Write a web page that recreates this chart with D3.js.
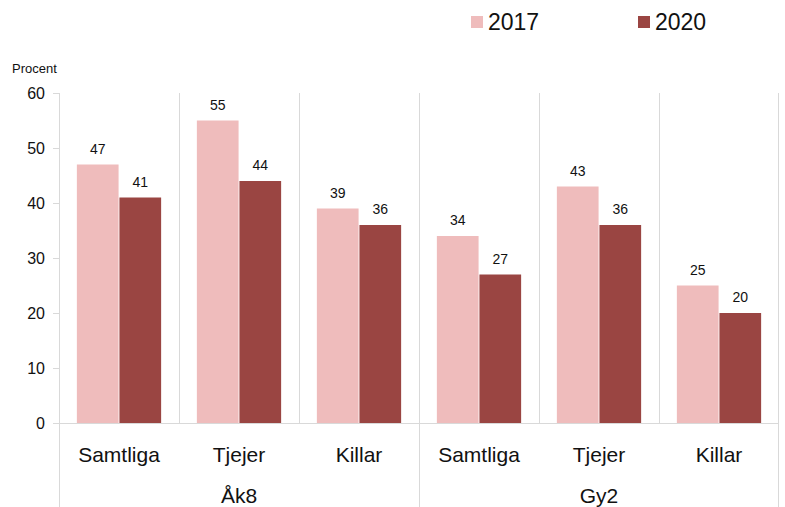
<!DOCTYPE html>
<html>
<head>
<meta charset="utf-8">
<script src="https://cdn.jsdelivr.net/npm/d3@7"></script>
<style>
    body { margin: 0; background: #fff; font-family: "Liberation Sans", Arial, sans-serif; }
</style>
</head>
<body>
<svg width="785" height="507"></svg>
<script>
    const groups = ["Åk8", "Gy2"];
    const categories = ["Samtliga", "Tjejer", "Killar"];
    const years = ["2017", "2020"];
    const values2017 = [47, 55, 39, 34, 43, 25];
    const values2020 = [41, 44, 36, 27, 36, 20];
    const yTicks = [0, 10, 20, 30, 40, 50, 60];

    const colors = { "2017": "#efbcbc", "2020": "#9a4542" };
    const grid = "#d9d9d9";

    const plotLeft = 59, plotRight = 779, plotTop = 93, plotBottom = 423;
    const svg = d3.select("svg");

    const data = [];
    groups.forEach((g, gi) => categories.forEach((c, ci) => {
        const i = gi * categories.length + ci;
        data.push({ key: g + "-" + c, group: g, cat: c, v2017: values2017[i], v2020: values2020[i] });
    }));

    const x = d3.scaleBand().domain(data.map(d => d.key)).range([plotLeft, plotRight]);
    const xInner = d3.scaleBand().domain(years).range([0, x.bandwidth()]).paddingOuter(0.42).paddingInner(0.02);
    const y = d3.scaleLinear().domain([0, 60]).range([plotBottom, plotTop]);

    // vertical separators
    data.forEach((d, i) => {
        const xx = x(d.key);
        const isGroupEdge = i % categories.length === 0;
        svg.append("line")
            .attr("x1", xx + 0.5).attr("x2", xx + 0.5)
            .attr("y1", plotTop).attr("y2", isGroupEdge ? 507 : plotBottom)
            .attr("stroke", grid);
    });
    svg.append("line")
        .attr("x1", plotRight - 0.5).attr("x2", plotRight - 0.5)
        .attr("y1", plotTop).attr("y2", 507)
        .attr("stroke", grid);

    // y axis ticks
    svg.selectAll(".ytick").data(yTicks).enter().append("line")
        .attr("x1", plotLeft - 6).attr("x2", plotLeft)
        .attr("y1", d => Math.round(y(d)) + 0.5).attr("y2", d => Math.round(y(d)) + 0.5)
        .attr("stroke", grid);
    svg.selectAll(".ylab").data(yTicks).enter().append("text")
        .attr("x", 45).attr("y", d => y(d))
        .attr("dy", "0.35em")
        .attr("text-anchor", "end")
        .attr("font-size", 16)
        .attr("fill", "#111")
        .text(d => d);

    svg.append("text").attr("x", 12).attr("y", 73).attr("font-size", 13).attr("fill", "#111").text("Procent");

    // bars
    const cat = svg.selectAll(".cat").data(data).enter().append("g")
        .attr("transform", d => `translate(${x(d.key)},0)`);

    years.forEach(yr => {
        cat.append("rect")
            .attr("x", xInner(yr))
            .attr("width", xInner.bandwidth())
            .attr("y", d => y(d["v" + yr]))
            .attr("height", d => plotBottom - y(d["v" + yr]))
            .attr("fill", colors[yr]);
        cat.append("text")
            .attr("x", xInner(yr) + xInner.bandwidth() / 2)
            .attr("y", d => y(d["v" + yr]) - 11)
            .attr("text-anchor", "middle")
            .attr("font-size", 14)
            .attr("fill", "#111")
            .text(d => d["v" + yr]);
    });

    // baseline
    svg.append("line")
        .attr("x1", plotLeft).attr("x2", plotRight)
        .attr("y1", plotBottom + 0.5).attr("y2", plotBottom + 0.5)
        .attr("stroke", grid);

    // category labels
    cat.append("text")
        .attr("x", x.bandwidth() / 2)
        .attr("y", 462)
        .attr("text-anchor", "middle")
        .attr("font-size", 21)
        .attr("fill", "#111")
        .text(d => d.cat);

    // group labels
    groups.forEach(g => {
        const keys = data.filter(d => d.group === g).map(d => d.key);
        const cx = (x(keys[0]) + x(keys[keys.length - 1]) + x.bandwidth()) / 2;
        svg.append("text")
            .attr("x", cx).attr("y", 503)
            .attr("text-anchor", "middle")
            .attr("font-size", 21)
            .attr("fill", "#111")
            .text(g);
    });

    // legend
    const legendX = [471, 638];
    years.forEach((yr, i) => {
        svg.append("rect")
            .attr("x", legendX[i]).attr("y", 16)
            .attr("width", 12).attr("height", 12)
            .attr("fill", colors[yr]);
        svg.append("text")
            .attr("x", legendX[i] + 17).attr("y", 30)
            .attr("font-size", 23)
            .attr("fill", "#111")
            .text(yr);
    });
</script>
</body>
</html>
